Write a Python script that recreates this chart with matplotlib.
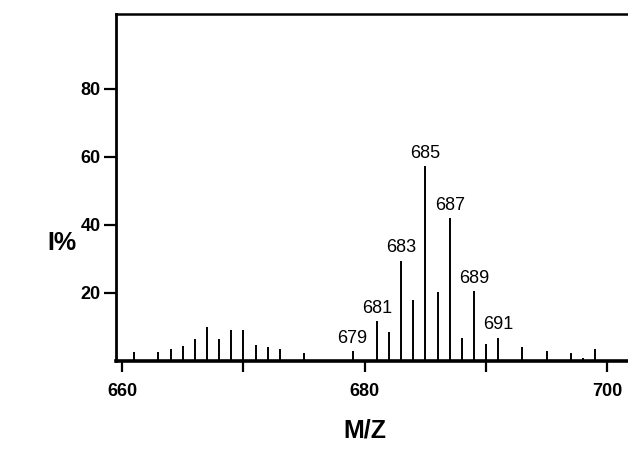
import matplotlib
matplotlib.use("Agg")
import matplotlib.pyplot as plt

plt.rcParams.update({
    "font.family": ["Liberation Sans", "DejaVu Sans"],
    "font.size": 13,
})

# m/z positions and relative intensities (%)
MZ = [661, 663, 664, 665, 666, 667, 668, 669, 670, 671, 672, 673, 675,
      679, 681, 682, 683, 684, 685, 686, 687, 688, 689, 690, 691,
      693, 695, 697, 698, 699]
INTENSITY = [2.5, 2.5, 3.5, 4.4, 6.6, 10.1, 6.4, 9.0, 9.1, 4.7, 4.0, 3.4, 2.3,
             3.0, 11.8, 8.6, 29.5, 18.0, 57.2, 20.2, 41.9, 6.8, 20.6, 4.9, 6.9,
             4.0, 3.0, 2.4, 0.8, 3.4]
LABELLED = [679, 681, 683, 685, 687, 689, 691]

X_TICKS = [660, 670, 680, 690, 700]
X_TICK_LABELS = ["660", "", "680", "", "700"]
Y_TICKS = [20, 40, 60, 80]

fig = plt.figure(figsize=(6.28, 4.65), dpi=100)
ax = fig.add_axes([0.1847, 0.2237, 0.8153, 0.7462])

ax.vlines(MZ, 0, INTENSITY, color="black", linewidth=1.4)
for mz, h in zip(MZ, INTENSITY):
    if mz in LABELLED:
        ax.annotate(str(mz), (mz, h), xytext=(0, 3), textcoords="offset points",
                    ha="center", va="bottom", fontsize=13)

ax.set_xlim(659.5, 701.7)
ax.set_ylim(0, 102)
ax.set_xticks(X_TICKS)
ax.set_xticklabels(X_TICK_LABELS, fontweight="bold", fontsize=13)
ax.set_yticks(Y_TICKS)
ax.set_yticklabels([str(v) for v in Y_TICKS], fontweight="bold", fontsize=13)
ax.tick_params(axis="x", direction="out", length=8, width=1.6, pad=8)
ax.tick_params(axis="y", direction="out", length=9, width=1.6, pad=2)

ax.spines["right"].set_visible(False)
ax.spines["left"].set_linewidth(2.0)
ax.spines["bottom"].set_linewidth(2.6)
ax.spines["top"].set_linewidth(1.8)

fig.text(62 / 628, 1 - 243 / 465, "I%", fontsize=18, fontweight="bold",
         ha="center", va="center")
fig.text(365 / 628, 1 - 430 / 465, "M/Z", fontsize=18, fontweight="bold",
         ha="center", va="center")

fig.savefig("out.png", dpi=100)
